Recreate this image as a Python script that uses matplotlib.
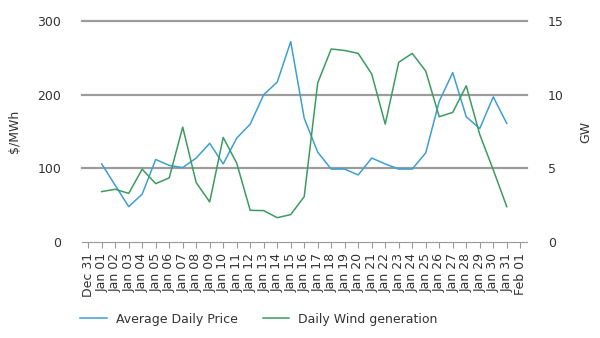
import pandas as pd
import matplotlib
matplotlib.use('Agg')
from matplotlib import pyplot as plt
import matplotlib.dates as mdates

plt.rcParams['font.family'] = ['DejaVu Sans']

### data
days = pd.date_range('2018-01-01', '2018-01-31', freq='D')
price = [106, 77, 48, 65, 112, 104, 101, 114, 134, 106, 141, 160, 200, 217, 272,
         168, 122, 99, 99, 91, 114, 106, 99, 99, 121, 191, 230, 170, 154, 197, 161]
wind = [3.42, 3.58, 3.3, 4.94, 3.96, 4.35, 7.8, 4.03, 2.72, 7.1, 5.35, 2.15, 2.13, 1.65, 1.86,
        3.08, 10.8, 13.1, 13.0, 12.8, 11.4, 8.0, 12.2, 12.8, 11.6, 8.5, 8.8, 10.6, 7.3, 4.9, 2.4]
tick_days = pd.date_range('2017-12-31', '2018-02-01', freq='D')

blue = '#3d9fd3'
green = '#3c9b60'
grid_c = '#9c9c9c'
text_c = '#333333'

fig = plt.figure(figsize=(6, 3.38), dpi=100)
ax = fig.add_axes([82/600, 96/338, 445/600, 221/338])
ax2 = ax.twinx()

l1, = ax.plot(days, price, color=blue, linewidth=1.1, label='Average Daily Price')
l2, = ax2.plot(days, wind, color=green, linewidth=1.1, label='Daily Wind generation')

ax.set_ylim(0, 300)
ax2.set_ylim(0, 15)
ax.set_yticks([0, 100, 200, 300])
ax2.set_yticks([0, 5, 10, 15])

for y in [100, 200, 300]:
    ax.axhline(y, color=grid_c, linewidth=1.6, zorder=0, clip_on=False)

ax.set_xlim(days[0] - pd.Timedelta(hours=35), days[-1] + pd.Timedelta(hours=36))
ax.set_xticks(tick_days)
ax.xaxis.set_major_formatter(mdates.DateFormatter('%b %d'))
plt.setp(ax.get_xticklabels(), rotation=90)

for a in (ax, ax2):
    for s in ['top', 'left', 'right', 'bottom']:
        a.spines[s].set_visible(False)
    a.tick_params(axis='y', length=0, pad=15, labelsize=9, labelcolor=text_c)
ax.spines['bottom'].set_visible(True)
ax.spines['bottom'].set_color('#999999')
ax.tick_params(axis='x', length=4, color='#999999', labelsize=9, labelcolor=text_c, pad=4)

ax.set_ylabel('$/MWh', fontsize=9, color=text_c, labelpad=12)
ax2.set_ylabel('GW', fontsize=9, color=text_c, labelpad=11)

fig.legend(handles=[l1, l2], loc='center left', bbox_to_anchor=(0.115, 0.056), ncol=2,
           frameon=False, fontsize=9, handlelength=2.1, handletextpad=0.75,
           columnspacing=2.0, labelcolor=text_c)

fig.savefig('out.png', dpi=100)
